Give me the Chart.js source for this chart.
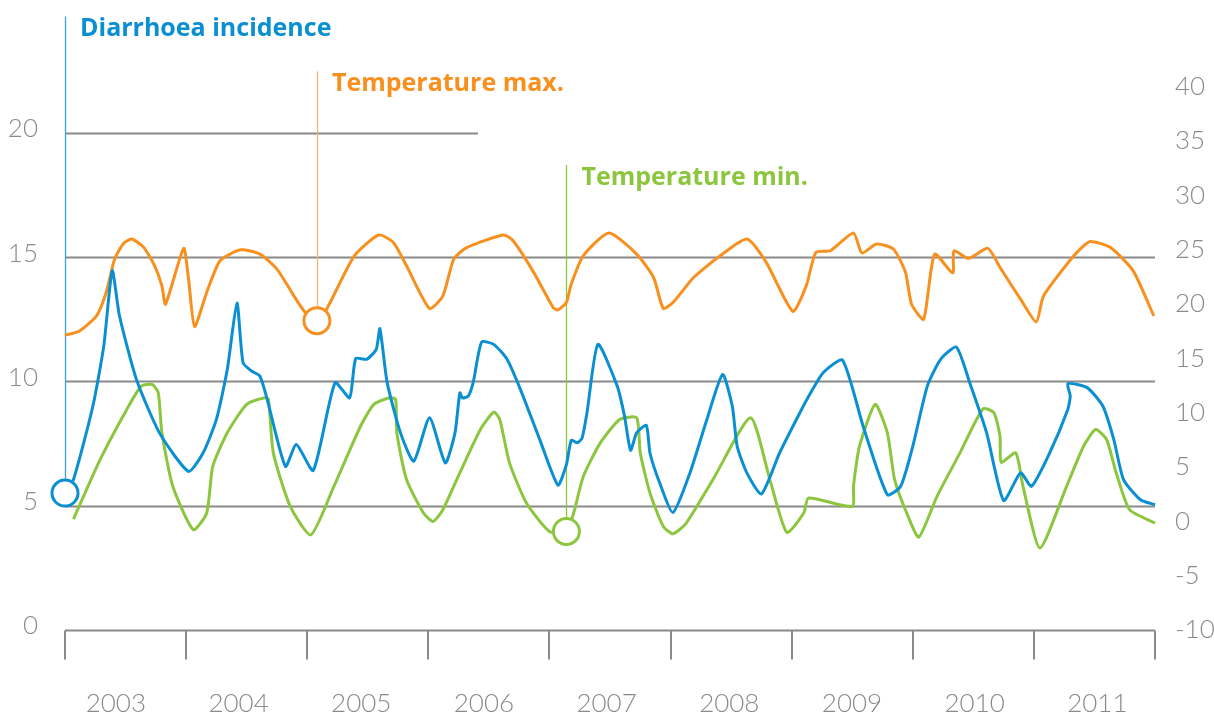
<!DOCTYPE html>
<html>
<head>
<meta charset="utf-8">
<title>Diarrhoea incidence and temperature</title>
<script src="https://cdn.jsdelivr.net/npm/chart.js@4.4.0/dist/chart.umd.min.js"></script>
<style>
    html, body { margin: 0; padding: 0; background: #ffffff; }
    #wrap { width: 1214px; height: 718px; }
</style>
</head>
<body>
<div id="wrap"><canvas id="theChart" width="1214" height="718"></canvas></div>
<script>
// x values are decimal years
const diarrhoeaYears = [2003.00, 2003.07, 2003.23, 2003.32, 2003.39, 2003.45, 2003.59, 2003.78, 2004.02, 2004.14,
    2004.25, 2004.34, 2004.42, 2004.47, 2004.54, 2004.61, 2004.67, 2004.82, 2004.91, 2005.05,
    2005.23, 2005.35, 2005.40, 2005.49, 2005.57, 2005.60, 2005.66, 2005.77, 2005.88, 2006.01,
    2006.14, 2006.22, 2006.26, 2006.28, 2006.33, 2006.37, 2006.44, 2006.54, 2006.65, 2006.76,
    2006.92, 2007.07, 2007.14, 2007.18, 2007.23, 2007.27, 2007.31, 2007.40, 2007.56, 2007.62,
    2007.67, 2007.72, 2007.80, 2007.83, 2007.91, 2008.02, 2008.16, 2008.30, 2008.43, 2008.51,
    2008.55, 2008.63, 2008.75, 2008.90, 2009.07, 2009.15, 2009.26, 2009.42, 2009.59, 2009.79,
    2009.90, 2010.00, 2010.12, 2010.23, 2010.36, 2010.47, 2010.61, 2010.75, 2010.89, 2010.98,
    2011.13, 2011.28, 2011.30, 2011.28, 2011.44, 2011.57, 2011.66, 2011.74, 2011.88, 2012.00];
const diarrhoeaValues = [5.51, 6.05, 9.00, 11.42, 14.45, 12.63, 10.08, 7.93, 6.38, 7.12,
    8.47, 10.48, 13.15, 10.75, 10.42, 10.21, 9.27, 6.58, 7.46, 6.42,
    9.95, 9.34, 10.92, 10.89, 11.29, 12.12, 9.95, 7.93, 6.79, 8.54,
    6.72, 7.93, 9.54, 9.34, 9.41, 9.95, 11.58, 11.49, 10.89, 9.68,
    7.66, 5.83, 6.65, 7.63, 7.53, 7.73, 8.74, 11.49, 9.81, 8.60,
    7.23, 7.93, 8.23, 7.12, 5.92, 4.73, 6.32, 8.47, 10.28, 9.00,
    7.39, 6.32, 5.47, 7.12, 8.76, 9.48, 10.35, 10.86, 8.20, 5.44,
    5.78, 7.39, 9.81, 10.89, 11.38, 9.95, 7.93, 5.21, 6.32, 5.78,
    7.12, 8.87, 9.41, 9.91, 9.75, 9.00, 7.66, 6.05, 5.24, 5.04];

const tempMaxYears = [2003.00, 2003.12, 2003.26, 2003.34, 2003.41, 2003.48, 2003.55, 2003.65, 2003.74, 2003.80,
    2003.83, 2003.98, 2004.02, 2004.07, 2004.17, 2004.28, 2004.45, 2004.61, 2004.75, 2004.89,
    2004.98, 2005.08, 2005.16, 2005.39, 2005.59, 2005.71, 2005.82, 2006.01, 2006.12, 2006.21,
    2006.32, 2006.62, 2006.70, 2006.87, 2007.03, 2007.07, 2007.14, 2007.18, 2007.28, 2007.49,
    2007.72, 2007.86, 2007.94, 2008.02, 2008.19, 2008.41, 2008.63, 2008.79, 2009.01, 2009.12,
    2009.20, 2009.32, 2009.51, 2009.58, 2009.70, 2009.84, 2009.94, 2009.99, 2010.09, 2010.18,
    2010.33, 2010.34, 2010.46, 2010.62, 2010.72, 2010.89, 2011.02, 2011.08, 2011.33, 2011.46,
    2011.63, 2011.82, 2011.99];
const tempMaxValues = [17.12, 17.52, 18.90, 21.06, 24.13, 25.52, 25.98, 25.21, 23.51, 21.67,
    19.98, 25.12, 22.29, 17.92, 21.06, 23.98, 24.99, 24.59, 23.21, 20.75,
    19.27, 18.46, 19.52, 24.44, 26.35, 25.67, 23.51, 19.58, 20.75, 24.13,
    25.21, 26.35, 25.82, 22.91, 19.68, 19.46, 20.14, 21.83, 24.44, 26.53,
    24.59, 22.44, 19.58, 20.14, 22.44, 24.44, 25.98, 23.83, 19.32, 21.67,
    24.75, 24.90, 26.53, 24.69, 25.52, 25.06, 22.91, 19.98, 18.60, 24.59,
    22.84, 24.90, 24.20, 25.12, 23.37, 20.44, 18.35, 20.75, 24.44, 25.73,
    25.21, 23.05, 18.90];

const tempMinYears = [2003.07, 2003.29, 2003.51, 2003.63, 2003.72, 2003.77, 2003.80, 2003.89, 2004.06, 2004.17,
    2004.22, 2004.34, 2004.50, 2004.65, 2004.68, 2004.72, 2004.86, 2005.03, 2005.22, 2005.44,
    2005.55, 2005.68, 2005.73, 2005.74, 2005.82, 2005.96, 2006.04, 2006.12, 2006.26, 2006.43,
    2006.54, 2006.59, 2006.67, 2006.81, 2007.00, 2007.14, 2007.20, 2007.28, 2007.42, 2007.58,
    2007.72, 2007.75, 2007.83, 2007.94, 2008.02, 2008.13, 2008.35, 2008.66, 2008.82, 2008.96,
    2009.10, 2009.14, 2009.50, 2009.51, 2009.56, 2009.69, 2009.79, 2009.85, 2009.95, 2010.05,
    2010.20, 2010.39, 2010.58, 2010.67, 2010.72, 2010.73, 2010.85, 2010.91, 2011.05, 2011.27,
    2011.41, 2011.51, 2011.60, 2011.68, 2011.79, 2012.00];
const tempMinValues = [0.21, 5.68, 10.30, 12.44, 12.60, 11.84, 8.15, 3.22, -0.77, 0.77,
    5.06, 8.15, 10.76, 11.37, 11.22, 6.30, 1.37, -1.24, 3.22, 8.75,
    10.76, 11.37, 11.22, 8.15, 3.84, 0.77, -0.01, 1.07, 4.46, 8.45,
    10.05, 9.37, 5.38, 1.69, -0.93, -0.93, 0.77, 4.14, 7.22, 9.37,
    9.53, 6.30, 2.61, -0.47, -1.14, -0.16, 3.84, 9.53, 3.84, -1.02,
    0.77, 2.15, 1.37, 3.22, 6.91, 10.76, 8.15, 3.84, 0.77, -1.45,
    2.30, 6.30, 10.36, 9.99, 7.83, 5.43, 6.30, 3.22, -2.46, 3.22,
    6.91, 8.45, 7.53, 4.46, 1.07, -0.16];

const yearLabels = ["2003", "2004", "2005", "2006", "2007", "2008", "2009", "2010", "2011"];
const leftTicks = [0, 5, 10, 15, 20];
const rightTicks = [-10, -5, 0, 5, 10, 15, 20, 25, 30, 35, 40];

const BLUE = "#0a8fd3";
const ORANGE = "#f7901e";
const GREEN = "#8cc63f";
const GREY = "#8a8a8a";

// which point of each series carries the ring + label line
const markers = [
    { series: 0, index: 0, top: 24.68, text: "Diarrhoea incidence", color: BLUE, lineColor: "#3aa3dc" },
    { series: 1, index: 21, top: 41.4, text: "Temperature max.", color: ORANGE, lineColor: "#f9b26a" },
    { series: 2, index: 35, top: 32.8, text: "Temperature min.", color: GREEN, lineColor: GREEN },
];

function toPoints(xs, ys) {
    return xs.map((x, i) => ({ x: x, y: ys[i] }));
}

function ringRadius(seriesIdx) {
    return (ctx) => {
        const m = markers.find((mk) => mk.series === seriesIdx);
        return m && ctx.dataIndex === m.index ? 13 : 0;
    };
}

// no extra room for half labels at the ends of the axes
function noPad(axis) {
    axis.paddingTop = 0;
    axis.paddingBottom = 0;
    axis.paddingLeft = 0;
    axis.paddingRight = 0;
}

const decorPlugin = {
    id: "decor",
    beforeDatasetsDraw(chart) {
        const { ctx, chartArea, scales } = chart;
        const yL = scales.y;
        const x = scales.x;
        ctx.save();
        ctx.strokeStyle = GREY;
        ctx.lineWidth = 2;
        // horizontal rules, the top one is short
        [5, 10, 15].forEach((v) => {
            const py = Math.round(yL.getPixelForValue(v)) + 0.5;
            ctx.beginPath();
            ctx.moveTo(chartArea.left, py);
            ctx.lineTo(chartArea.right, py);
            ctx.stroke();
        });
        const p20 = Math.round(yL.getPixelForValue(20)) + 0.5;
        ctx.beginPath();
        ctx.moveTo(chartArea.left, p20);
        ctx.lineTo(x.getPixelForValue(2006.41), p20);
        ctx.stroke();

        // base axis and year separators
        const base = Math.round(yL.getPixelForValue(0)) + 0.5;
        ctx.beginPath();
        ctx.moveTo(chartArea.left, base);
        ctx.lineTo(chartArea.right, base);
        for (let yr = 2003; yr <= 2012; yr++) {
            const px = Math.round(x.getPixelForValue(yr));
            ctx.moveTo(px, base);
            ctx.lineTo(px, base + 29);
        }
        ctx.stroke();

        // thin label lines
        markers.forEach((m) => {
            const ds = chart.data.datasets[m.series];
            const axis = scales[ds.yAxisID];
            const pt = ds.data[m.index];
            const px = Math.round(x.getPixelForValue(pt.x)) + 0.5;
            ctx.strokeStyle = m.lineColor;
            ctx.lineWidth = 1.3;
            ctx.beginPath();
            ctx.moveTo(px, axis.getPixelForValue(m.top));
            ctx.lineTo(px, axis.getPixelForValue(pt.y) - 14);
            ctx.stroke();
        });
        ctx.restore();
    },
    afterDraw(chart) {
        const { ctx, scales } = chart;
        ctx.save();
        ctx.font = "bold 25px 'Open Sans'";
        ctx.textAlign = "left";
        ctx.textBaseline = "alphabetic";
        markers.forEach((m) => {
            const ds = chart.data.datasets[m.series];
            const axis = scales[ds.yAxisID];
            const pt = ds.data[m.index];
            ctx.fillStyle = m.color;
            ctx.fillText(m.text, scales.x.getPixelForValue(pt.x) + 15, axis.getPixelForValue(m.top) + 20);
        });
        ctx.restore();
    },
};

const tickFont = { family: "Lato", size: 26, weight: "300" };

function makeSeries(label, xs, ys, color, axisId, idx) {
    return {
        label: label,
        data: toPoints(xs, ys),
        yAxisID: axisId,
        borderColor: color,
        borderWidth: 3,
        tension: 0.2,
        fill: false,
        clip: false,
        pointRadius: ringRadius(idx),
        pointHoverRadius: ringRadius(idx),
        pointBackgroundColor: "#ffffff",
        pointBorderColor: color,
        pointBorderWidth: 3,
    };
}

const theChart = new Chart(document.getElementById("theChart"), {
    type: "line",
    data: {
        datasets: [
            makeSeries("Diarrhoea incidence", diarrhoeaYears, diarrhoeaValues, BLUE, "y", 0),
            makeSeries("Temperature max.", tempMaxYears, tempMaxValues, ORANGE, "y1", 1),
            makeSeries("Temperature min.", tempMinYears, tempMinValues, GREEN, "y1", 2),
        ],
    },
    options: {
        responsive: false,
        animation: false,
        layout: { padding: { top: 3, left: 0, right: 0, bottom: 0 } },
        plugins: {
            legend: { display: false },
            tooltip: { enabled: false },
        },
        scales: {
            x: {
                type: "linear",
                min: 2003,
                max: 2012,
                grid: { display: false, drawTicks: false },
                border: { display: false },
                afterBuildTicks: (axis) => {
                    // labels sit a little left of the year centres in the original
                    axis.ticks = yearLabels.map((_, i) => ({ value: 2003.42 + i * 1.013 }));
                },
                afterFit: (axis) => { axis.height = 88; noPad(axis); },
                ticks: {
                    autoSkip: false,
                    maxRotation: 0,
                    padding: 58,
                    color: GREY,
                    font: tickFont,
                    callback: (value, i) => yearLabels[i],
                },
            },
            y: {
                position: "left",
                min: 0,
                max: 24.7,
                grid: { display: false, drawTicks: false },
                border: { display: false },
                afterBuildTicks: (axis) => { axis.ticks = leftTicks.map((v) => ({ value: v })); },
                afterFit: (axis) => { axis.width = 65; noPad(axis); },
                ticks: { padding: 27, labelOffset: -4, color: GREY, font: tickFont },
            },
            y1: {
                position: "right",
                min: -10,
                max: 46.5,
                grid: { display: false, drawTicks: false },
                border: { display: false },
                afterBuildTicks: (axis) => { axis.ticks = rightTicks.map((v) => ({ value: v })); },
                afterFit: (axis) => { axis.width = 59; noPad(axis); },
                ticks: { padding: 20, color: GREY, font: tickFont },
            },
        },
    },
    plugins: [decorPlugin],
});
</script>
</body>
</html>
